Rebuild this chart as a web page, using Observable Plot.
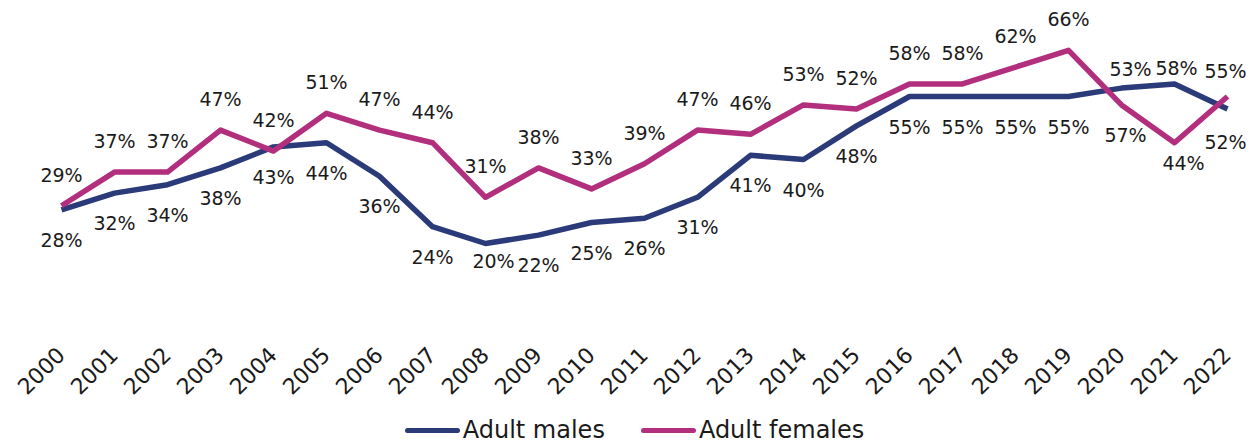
<!DOCTYPE html>
<html>
<head>
<meta charset="utf-8">
<script src="https://cdn.jsdelivr.net/npm/d3@7"></script>
<script src="https://cdn.jsdelivr.net/npm/@observablehq/plot@0.6"></script>
<style>
  html, body { margin: 0; padding: 0; background: #fff; }
  body { width: 1257px; font-family: "DejaVu Sans", sans-serif; color: #1a1a1a; }
  #legend { display: flex; justify-content: center; align-items: center; height: 34px; margin-top: 3px; font-size: 24px; gap: 36px; padding-left: 12px; }
  .item { display: flex; align-items: center; }
  .sw { width: 55px; height: 5px; border-radius: 3px; margin-right: 3px; }
</style>
</head>
<body>
<div id="chart"></div>
<div id="legend"></div>
<script>
const years = [2000,2001,2002,2003,2004,2005,2006,2007,2008,2009,2010,2011,2012,2013,2014,2015,2016,2017,2018,2019,2020,2021,2022];
const males   = [28,32,34,38,43,44,36,24,20,22,25,26,31,41,40,48,55,55,55,55,57,58,52];
const females = [29,37,37,47,42,51,47,44,31,38,33,39,47,46,53,52,58,58,62,66,53,44,55];
const seriesNames = ["Adult males", "Adult females"];
const seriesColors = ["#2b3a78", "#b22f7d"];

const rows = [];
years.forEach((yr, i) => {
  rows.push({series: seriesNames[0], year: yr, value: males[i]});
  rows.push({series: seriesNames[1], year: yr, value: females[i]});
});

// label placement: females above, males below, with a few hand nudges as in the original
const nudges = {
  "Adult males|2008": [8, 18],
  "Adult males|2020": [4, 48],
  "Adult males|2021": [2, -15],
  "Adult males|2022": [-2, 34],
  "Adult females|2020": [9, -35],
  "Adult females|2021": [9, 21],
  "Adult females|2022": [-2, -25]
};
const labelRows = rows.map(d => {
  const key = d.series + "|" + d.year;
  const n = nudges[key] || [0, d.series === seriesNames[0] ? 31 : -30];
  return {...d, dx: n[0], dy: n[1]};
});

const chart = Plot.plot({
  width: 1257,
  height: 410,
  marginLeft: 61,
  marginRight: 30,
  marginTop: 33,
  marginBottom: 83,
  style: {fontFamily: "DejaVu Sans, sans-serif", color: "#1a1a1a", background: "#fff"},
  x: {type: "point", domain: years, padding: 0, label: null},
  y: {domain: [0, 70], axis: null},
  color: {domain: seriesNames, range: seriesColors},
  marks: [
    Plot.axisX({tickRotate: -45, tickSize: 0, tickPadding: 24, fontSize: 22, label: null, tickFormat: d => String(d)}),
    Plot.line(rows, {x: "year", y: "value", z: "series", stroke: "series", strokeWidth: 5.5, strokeLinejoin: "round", strokeLinecap: "butt"}),
    ...labelRows.map(d => Plot.text([d], {x: "year", y: "value", text: d => d.value + "%", dx: d.dx, dy: d.dy, fontSize: 19, fill: "#1a1a1a"}))
  ]
});
document.getElementById("chart").appendChild(chart);

const legend = document.getElementById("legend");
seriesNames.forEach((name, i) => {
  const item = document.createElement("div");
  item.className = "item";
  const sw = document.createElement("div");
  sw.className = "sw";
  sw.style.background = seriesColors[i];
  const label = document.createElement("span");
  label.textContent = name;
  item.appendChild(sw);
  item.appendChild(label);
  legend.appendChild(item);
});
</script>
</body>
</html>
